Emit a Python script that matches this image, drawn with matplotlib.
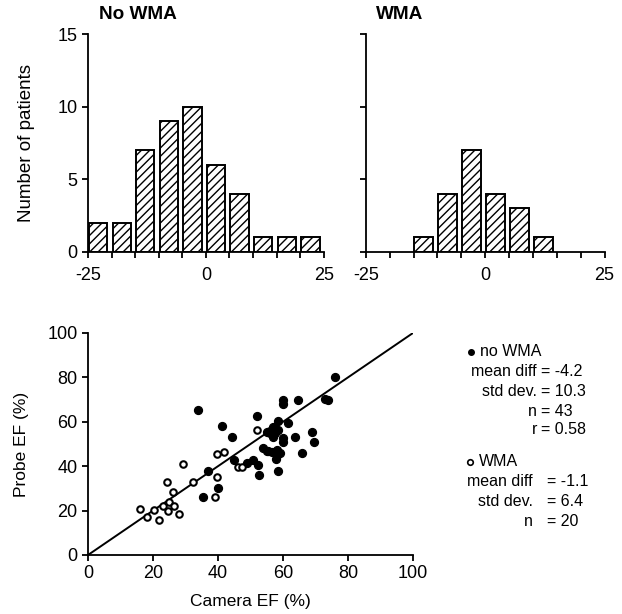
import numpy as np
import matplotlib.pyplot as plt
from matplotlib.lines import Line2D

plt.rcParams['font.family'] = ['Liberation Sans', 'DejaVu Sans']

# histogram bins (difference, %) and counts
bin_left = [-25, -20, -15, -10, -5, 0, 5, 10, 15, 20]
no_wma_counts = [2, 2, 7, 9, 10, 6, 4, 1, 1, 1]
wma_counts = [0, 0, 1, 4, 7, 4, 3, 1, 0, 0]

# scatter data: camera EF vs probe EF
no_wma_camera = [33.9, 35.3, 36.8, 39.9, 41.2, 44.2, 45.0, 48.8, 50.9, 51.9,
                 52.4, 52.6, 53.9, 55.0, 56.5, 58.3, 58.3, 57.7, 58.6, 55.0,
                 56.0, 57.0, 57.0, 57.5, 58.6, 58.6, 61.6, 60.1, 60.1, 63.7,
                 69.0, 69.6, 65.9, 60.1, 60.1, 64.7, 72.9, 73.7, 76.0, 56.0,
                 59.0, 57.5, 55.5]
no_wma_probe = [65.2, 26.0, 38.0, 30.3, 58.2, 53.3, 42.8, 41.3, 42.8, 62.6,
                40.5, 36.0, 48.1, 46.8, 46.5, 47.3, 45.0, 43.2, 37.8, 55.3,
                54.8, 53.3, 57.8, 56.3, 56.3, 60.4, 59.3, 52.5, 50.8, 53.3,
                55.3, 50.8, 45.8, 69.8, 67.9, 69.8, 70.1, 69.8, 80.3, 56.0,
                46.0, 55.0, 47.0]
wma_camera = [16.0, 18.1, 20.3, 21.9, 23.2, 24.2, 24.7, 25.0, 26.2, 26.5,
              27.9, 29.1, 32.4, 39.1, 39.8, 39.8, 41.9, 46.3, 47.3, 51.9]
wma_probe = [20.7, 17.0, 20.3, 15.8, 22.2, 32.7, 20.0, 23.7, 28.5, 22.2,
             18.3, 41.0, 32.7, 26.0, 45.5, 35.3, 46.2, 39.8, 39.8, 56.5]

fig = plt.figure(figsize=(6.22, 6.14), dpi=100)

ax1 = fig.add_axes([0.1415, 0.5896, 0.379, 0.355])
ax2 = fig.add_axes([0.588, 0.5896, 0.384, 0.355])

for ax, counts, title in [(ax1, no_wma_counts, 'No WMA'), (ax2, wma_counts, 'WMA')]:
    lefts = [b + 0.2 for b in bin_left]
    keep = [i for i, c in enumerate(counts) if c > 0]
    ax.bar([lefts[i] for i in keep], [counts[i] for i in keep], width=3.9,
           align='edge', color='white', edgecolor='black', hatch='////', linewidth=1.4)
    ax.set_xlim(-25, 25)
    ax.set_ylim(0, 15)
    ax.spines['top'].set_visible(False)
    ax.spines['right'].set_visible(False)
    ax.spines['left'].set_linewidth(1.3)
    ax.spines['bottom'].set_linewidth(1.3)
    ax.set_xticks([-25, 0, 25])
    ax.set_xticklabels(['-25', '0', '25'])
    ax.set_xticks(np.arange(-25, 26, 5), minor=True)
    ax.set_yticks([0, 5, 10, 15])
    ax.tick_params(which='both', direction='out', length=4, width=1.3, labelsize=13)
    ax.tick_params(axis='x', pad=7)
    ax.text(0.045, 1.05, title, transform=ax.transAxes, fontsize=13.7,
            fontweight='bold', ha='left', va='bottom')

ax1.set_ylabel('Number of patients', fontsize=13.5, labelpad=16)
ax2.set_yticklabels([])

# scatter plot
ax3 = fig.add_axes([0.1415, 0.0961, 0.5225, 0.3616])
ax3.plot([0, 100], [0, 100], color='black', linewidth=1.4)
ax3.scatter(no_wma_camera, no_wma_probe, s=32, color='black', zorder=3)
ax3.scatter(wma_camera, wma_probe, s=22, facecolor='white', edgecolor='black',
            linewidth=1.5, zorder=3)
ax3.set_xlim(0, 100)
ax3.set_ylim(0, 100)
ax3.set_xticks([0, 20, 40, 60, 80, 100])
ax3.set_yticks([0, 20, 40, 60, 80, 100])
ax3.spines['top'].set_visible(False)
ax3.spines['right'].set_visible(False)
ax3.spines['left'].set_linewidth(1.3)
ax3.spines['bottom'].set_linewidth(1.3)
ax3.tick_params(direction='out', length=4, width=1.3, labelsize=13)
ax3.set_xlabel('Camera EF (%)', fontsize=12.5, labelpad=8)
ax3.set_ylabel('Probe EF (%)', fontsize=12.5, labelpad=13)

# statistics text
W, H = 622.0, 614.0
fs = 11.5


def ftext(x, y, s, ha='left'):
    fig.text(x / W, 1 - y / H, s, fontsize=fs, ha=ha, va='center')


fig.add_artist(Line2D([471 / W], [1 - 352 / H], marker='o', markersize=4,
                      color='black', transform=fig.transFigure))
ftext(480, 352, 'no WMA')
block1 = [('mean diff', '= -4.2', 372), ('std dev.', '= 10.3', 392),
          ('n', '= 43', 411), ('r', '= 0.58', 430)]
for lab, val, y in block1:
    ftext(537, y, lab, ha='right')
    ftext(541, y, val)

fig.add_artist(Line2D([470 / W], [1 - 462 / H], marker='o', markersize=4,
                      markerfacecolor='white', markeredgecolor='black',
                      markeredgewidth=1.2, transform=fig.transFigure))
ftext(479, 462, 'WMA')
block2 = [('mean diff', '= -1.1', 482), ('std dev.', '= 6.4', 502),
          ('n', '= 20', 522)]
for lab, val, y in block2:
    ftext(533, y, lab, ha='right')
    ftext(547, y, val)

fig.savefig('out.png', dpi=100)
